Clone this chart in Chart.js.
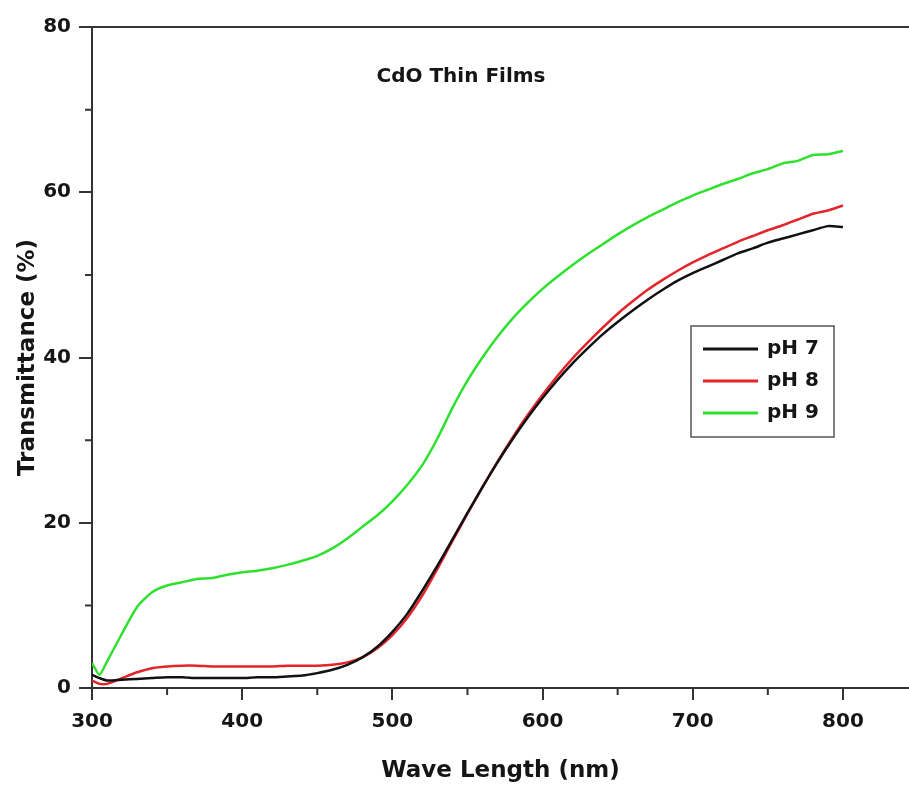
<!DOCTYPE html>
<html>
<head>
<meta charset="utf-8">
<script src="https://cdn.jsdelivr.net/npm/chart.js@4.4.1/dist/chart.umd.min.js"></script>
<style>
  html, body { margin: 0; padding: 0; background: #fff; }
  #wrap { width: 909px; height: 785px; position: relative; }
</style>
</head>
<body>
<div id="wrap"><canvas id="tChart"></canvas></div>
<script>
// wavelength (nm)
const waveLength = [300, 305, 310, 320, 330, 340, 350, 360, 370, 380, 390, 400, 410, 420, 430, 440, 450, 460, 470, 480,
  490, 500, 510, 520, 530, 540, 550, 560, 570, 580, 590, 600, 610, 620, 630, 640, 650, 660, 670, 680,
  690, 700, 710, 720, 730, 740, 750, 760, 770, 780, 790, 800];

// transmittance (%) for each pH
const ph7 = [1.6, 1.2, 0.9, 1.0, 1.1, 1.2, 1.3, 1.3, 1.2, 1.2, 1.2, 1.2, 1.3, 1.3, 1.4, 1.5, 1.8, 2.2, 2.8, 3.7,
  5.0, 6.8, 9.0, 11.8, 14.8, 18.0, 21.2, 24.3, 27.3, 30.1, 32.7, 35.1, 37.3, 39.3, 41.1, 42.8, 44.3, 45.7, 47.0, 48.2,
  49.3, 50.2, 51.0, 51.8, 52.6, 53.2, 53.9, 54.4, 54.9, 55.4, 55.9, 55.8];
const ph8 = [0.9, 0.5, 0.5, 1.2, 1.9, 2.4, 2.6, 2.7, 2.7, 2.6, 2.6, 2.6, 2.6, 2.6, 2.7, 2.7, 2.7, 2.8, 3.1, 3.7,
  4.8, 6.4, 8.5, 11.2, 14.4, 17.8, 21.1, 24.3, 27.4, 30.3, 33.0, 35.5, 37.8, 39.9, 41.8, 43.6, 45.3, 46.8, 48.2, 49.4,
  50.5, 51.5, 52.4, 53.2, 54.0, 54.7, 55.4, 56.0, 56.7, 57.4, 57.8, 58.4];
const ph9 = [3.0, 1.6, 3.2, 6.6, 9.8, 11.6, 12.4, 12.8, 13.2, 13.3, 13.7, 14.0, 14.2, 14.5, 14.9, 15.4, 16.0, 16.9, 18.1, 19.5,
  20.9, 22.6, 24.6, 27.0, 30.2, 33.9, 37.2, 40.0, 42.5, 44.7, 46.6, 48.3, 49.8, 51.2, 52.5, 53.7, 54.9, 56.0, 57.0, 57.9,
  58.8, 59.6, 60.3, 61.0, 61.6, 62.3, 62.8, 63.5, 63.8, 64.5, 64.6, 65.0];

const seriesNames = ["pH 7", "pH 8", "pH 9"];
const seriesColors = ["#111111", "#e3242b", "#2fe02f"];
const xMinorTicks = [350, 450, 550, 650, 750];
const yMinorTicks = [10, 30, 50, 70];

const toPoints = (ys) => waveLength.map((x, i) => ({ x: x, y: ys[i] }));

const axisColor = "#333333";
const textColor = "#151515";
const font = "'DejaVu Sans', sans-serif";

// minor ticks, top frame line, legend box and inner title
const decorations = {
  id: "decorations",
  afterDraw(chart) {
    const ctx = chart.ctx;
    const a = chart.chartArea;
    const xs = chart.scales.x, ys = chart.scales.y;
    ctx.save();
    ctx.strokeStyle = axisColor;
    ctx.lineWidth = 2;
    ctx.beginPath();
    ctx.moveTo(a.left, a.top);
    ctx.lineTo(a.right, a.top);
    xMinorTicks.forEach(v => {
      const px = xs.getPixelForValue(v);
      ctx.moveTo(px, a.bottom);
      ctx.lineTo(px, a.bottom + 7);
    });
    yMinorTicks.forEach(v => {
      const py = ys.getPixelForValue(v);
      ctx.moveTo(a.left - 7, py);
      ctx.lineTo(a.left, py);
    });
    ctx.stroke();

    // title inside plot
    ctx.fillStyle = textColor;
    ctx.font = "bold 20px " + font;
    ctx.textAlign = "center";
    ctx.textBaseline = "middle";
    ctx.fillText("CdO Thin Films", 461, 77);

    // legend
    const bx = 691, by = 326, bw = 143, bh = 111;
    ctx.lineWidth = 1.5;
    ctx.strokeStyle = "#555";
    ctx.strokeRect(bx, by, bw, bh);
    chart.data.datasets.forEach((ds, i) => {
      const ly = 349 + i * 32;
      ctx.strokeStyle = ds.borderColor;
      ctx.lineWidth = 3;
      ctx.beginPath();
      ctx.moveTo(703, ly);
      ctx.lineTo(758, ly);
      ctx.stroke();
      ctx.fillStyle = textColor;
      ctx.font = "bold 20px " + font;
      ctx.textAlign = "left";
      ctx.fillText(ds.label, 767, ly);
    });
    ctx.restore();
  }
};

new Chart(document.getElementById("tChart"), {
  type: "line",
  data: {
    datasets: seriesNames.map((name, i) => ({
      label: name,
      data: toPoints([ph7, ph8, ph9][i]),
      borderColor: seriesColors[i],
      borderWidth: 2.5,
      pointRadius: 0,
      tension: 0.2,
      fill: false
    }))
  },
  options: {
    responsive: true,
    maintainAspectRatio: false,
    animation: false,
    layout: { padding: { top: 27, right: 0, bottom: 0, left: 0 } },
    plugins: {
      legend: { display: false },
      tooltip: { enabled: false }
    },
    scales: {
      x: {
        type: "linear",
        min: 300,
        max: 844,
        afterFit: (s) => { s.height = 97; },
        border: { color: axisColor, width: 2 },
        grid: { drawOnChartArea: false, drawTicks: true, tickLength: 12, color: axisColor, lineWidth: 2 },
        ticks: {
          stepSize: 100,
          includeBounds: false,
          padding: 10,
          color: textColor,
          font: { family: font, size: 20, weight: "bold" }
        },
        title: {
          display: true,
          text: "Wave Length (nm)",
          color: textColor,
          padding: { top: 0, bottom: 0 },
          font: { family: font, size: 23, weight: "bold" }
        }
      },
      y: {
        min: 0,
        max: 80,
        afterFit: (s) => { s.width = 92; },
        border: { color: axisColor, width: 2 },
        grid: { drawOnChartArea: false, drawTicks: true, tickLength: 13, color: axisColor, lineWidth: 2 },
        ticks: {
          stepSize: 20,
          padding: 8,
          color: textColor,
          font: { family: font, size: 20, weight: "bold" }
        },
        title: {
          display: true,
          text: "Transmittance (%)",
          color: textColor,
          padding: { top: 14, bottom: 0 },
          font: { family: font, size: 23, weight: "bold" }
        }
      }
    }
  },
  plugins: [decorations]
});
</script>
</body>
</html>
